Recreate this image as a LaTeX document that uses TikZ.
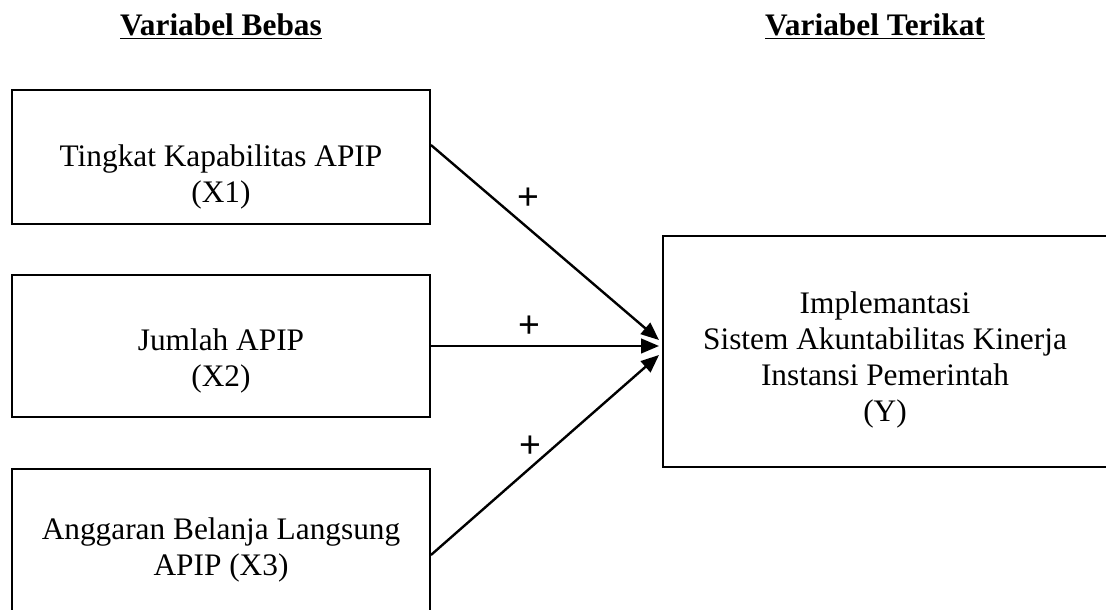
\documentclass[tikz,border=0pt]{standalone}
\usepackage{fontspec}
\setmainfont{Liberation Serif}
\newfontfamily\plusfont{Liberation Sans}
\usetikzlibrary{arrows.meta}

\begin{document}
\begin{tikzpicture}[x=0.75pt, y=-0.75pt,
		font=\fontsize{23.5}{27}\selectfont,
		box/.style={draw, line width=1.4pt, minimum width=313.5pt},
		txt/.style={align=center, inner sep=0pt},
		arr/.style={-{Triangle[length=13.5pt, width=11pt]}, line width=1.8pt},
		plus/.style={font=\plusfont\fontsize{28}{30}\selectfont, inner sep=0pt}]
		\useasboundingbox (0,0) rectangle (1106,610);
		
		% Define coordinates
		\coordinate (tip1) at (659,340);
		\coordinate (tip2) at (659,346);
		\coordinate (tip3) at (659,355);
		
		% Headings
		\node[anchor=base] (bebas) at (221,36) {\underline{\textbf{Variabel Bebas}}};
		\node[anchor=base] (terikat) at (875,36) {\underline{\textbf{Variabel Terikat}}};
		
		% Draw boxes
		\node[box, minimum height=100.5pt] (x1) at (221,157) {};
		\node[box, minimum height=106.5pt] (x2) at (221,346) {};
		\node[box, minimum height=114pt] (x3) at (221,545) {};
		\node[box, minimum width=333.75pt, minimum height=173.25pt] (y) at (885.5,351.5) {};
		
		% Box texts
		\node[txt] (t1) at (221,177) {Tingkat Kapabilitas APIP\\(X1)};
		\node[txt] (t2) at (221,361) {Jumlah APIP\\(X2)};
		\node[txt] (t3) at (221,550) {Anggaran Belanja Langsung\\APIP (X3)};
		\node[txt] (ty) at (885,360) {Implemantasi\\Sistem Akuntabilitas Kinerja\\Instansi Pemerintah\\(Y)};
		
		% Draw arrows
		\draw[arr] ([yshift=9pt]x1.east) -- (tip1);
		\draw[arr] (x2.east) -- (tip2);
		\draw[arr] ([yshift=-7.5pt]x3.east) -- (tip3);
		
		% Signs
		\node[plus] (p1) at (528,199) {+};
		\node[plus] (p2) at (529,327) {+};
		\node[plus] (p3) at (530,447) {+};
	\end{tikzpicture}
\end{document}
